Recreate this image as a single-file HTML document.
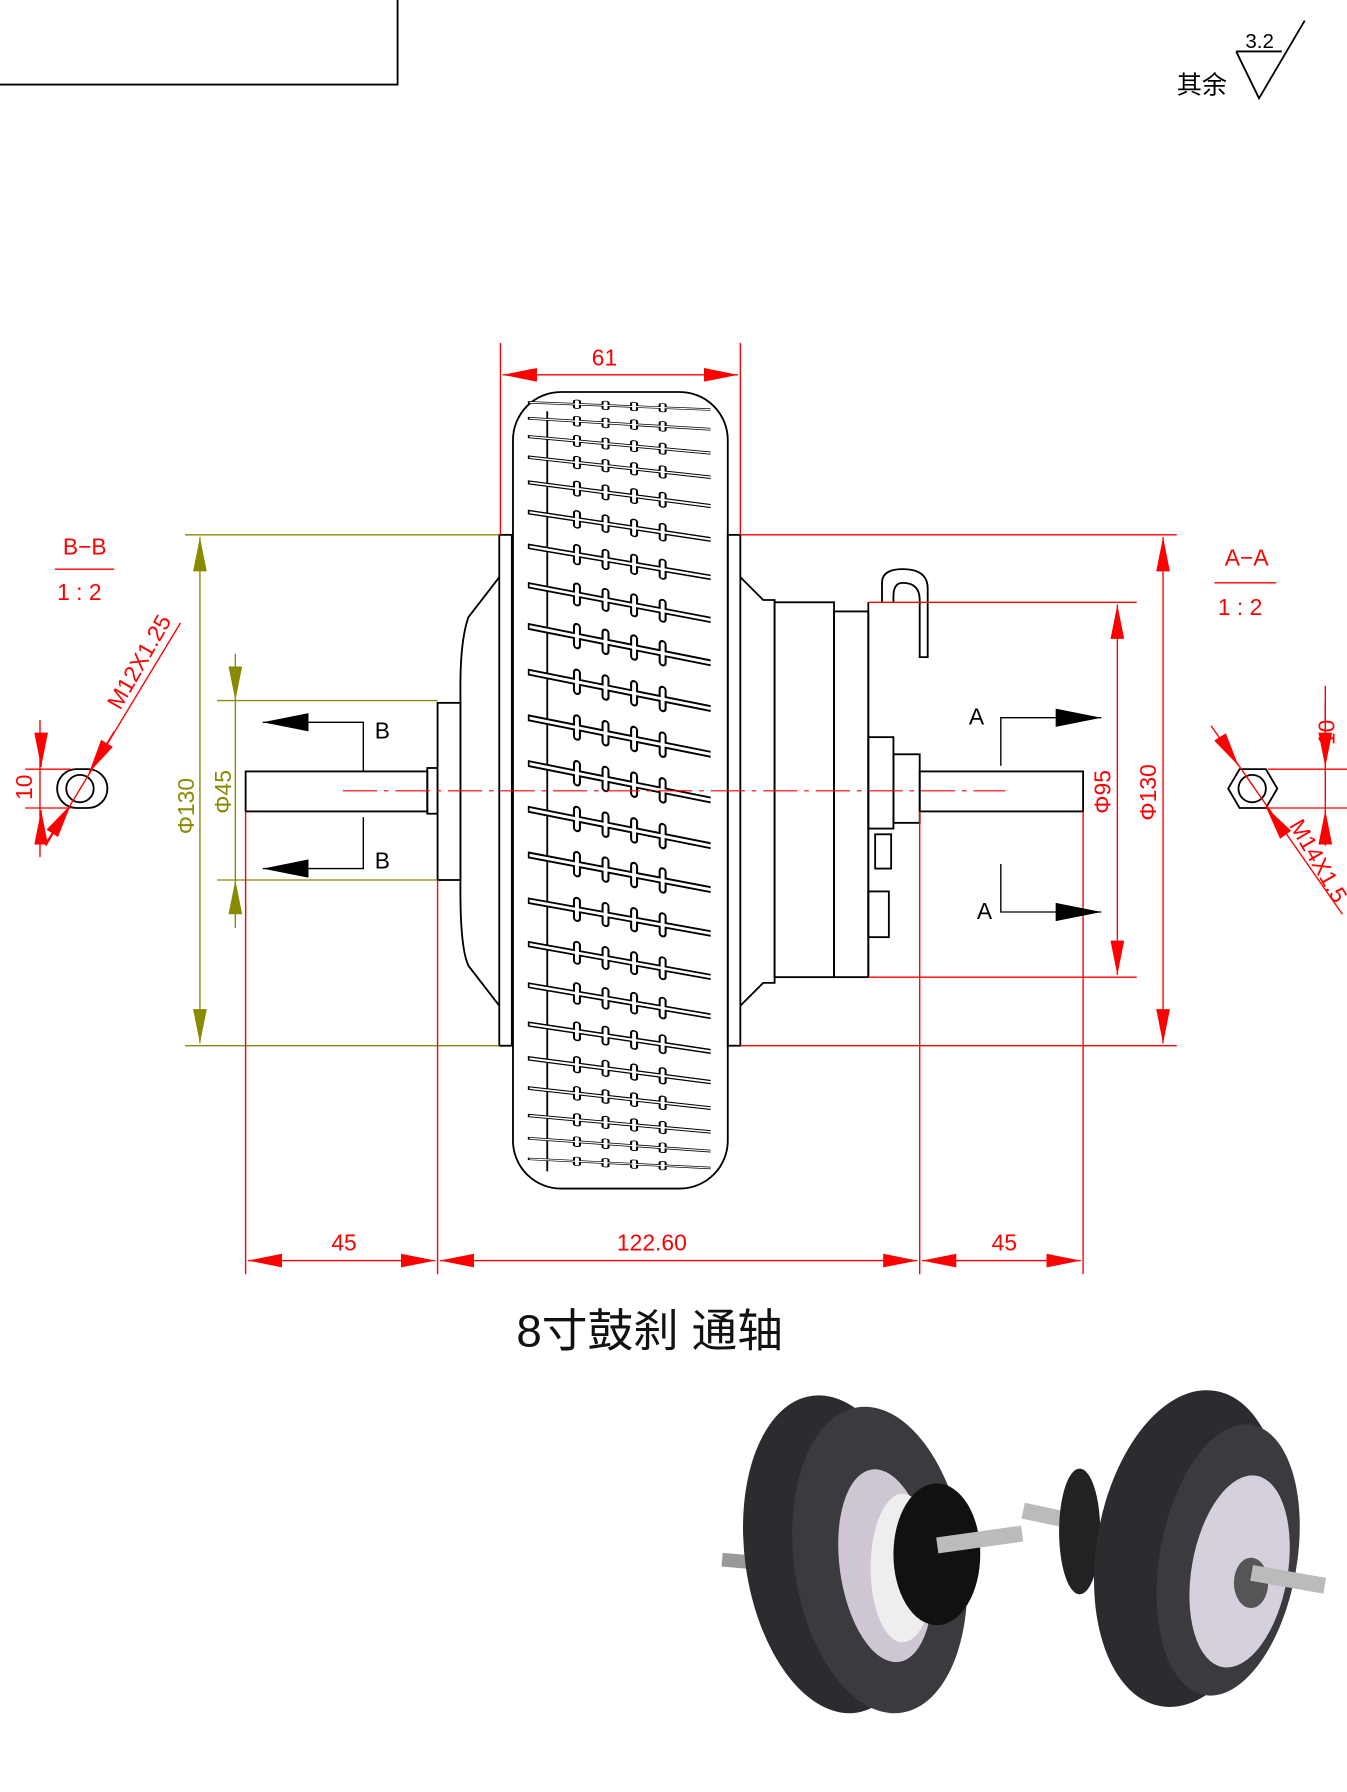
<!DOCTYPE html>
<html><head><meta charset="utf-8"><style>
html,body{margin:0;padding:0;background:#fff;}
svg{display:block;}
text{font-family:"Liberation Sans","Noto Sans CJK SC",sans-serif;}
.r{stroke:#f00;stroke-width:1.2;fill:none}
.y{stroke:#8a8a00;stroke-width:1.2;fill:none}
.k{stroke:#000;stroke-width:1.6;fill:none}
.rt{fill:#f00;font-size:20px;font-family:"Liberation Sans Narrow","Liberation Sans",sans-serif}
.yt{fill:#8a8a00;font-size:20px}
</style></head><body>
<svg width="1347" height="1792" viewBox="0 0 1179 1568" preserveAspectRatio="none" xmlns="http://www.w3.org/2000/svg" xmlns:xlink="http://www.w3.org/1999/xlink">
<defs>
<marker id="ar" viewBox="0 0 10 4" refX="10" refY="2" markerWidth="30" markerHeight="12" markerUnits="userSpaceOnUse" orient="auto-start-reverse"><path d="M0,0L10,2L0,4z" fill="#f00"/></marker>
<marker id="ay" viewBox="0 0 10 4" refX="10" refY="2" markerWidth="30" markerHeight="12" markerUnits="userSpaceOnUse" orient="auto-start-reverse"><path d="M0,0L10,2L0,4z" fill="#8a8a00"/></marker>
<marker id="ak" viewBox="0 0 10 4" refX="10" refY="2" markerWidth="44" markerHeight="16" markerUnits="userSpaceOnUse" orient="auto"><path d="M0,0L10,2L0,4z" fill="#000"/></marker>
<g id="gr">
<path d="M0,0H160" stroke="#000" stroke-width="6"/>
<path d="M43,-8V8M68,-8V8M93,-8V8M118,-8V8" stroke="#000" stroke-width="7" stroke-linecap="round"/>
<path d="M1.5,0H160" stroke="#fff" stroke-width="2.6"/>
<path d="M43,-8V8M68,-8V8M93,-8V8M118,-8V8" stroke="#fff" stroke-width="3.4" stroke-linecap="round"/>
</g>
</defs>
<path d="M0,74H348V0" class="k" stroke-width="1.2"/>
<text x="1030" y="82" font-size="22">其余</text>
<path d="M1082,45L1102,86L1142,18" class="k" stroke-width="1.2"/><path d="M1082,45H1122" class="k" stroke-width="1.2"/>
<text x="1090" y="42" font-size="18">3.2</text>

<rect x="449" y="343" width="188" height="697" rx="42" class="k" stroke-width="2"/>
<path d="M479,360V1025" class="k" stroke-width="1.2"/>
<g>
<use xlink:href="#gr" transform="matrix(1 0.04 0 0.35 462 352)"/>
<use xlink:href="#gr" transform="matrix(1 0.06 0 0.4 462 366)"/>
<use xlink:href="#gr" transform="matrix(1 0.09 0 0.45 462 382)"/>
<use xlink:href="#gr" transform="matrix(1 0.11 0 0.5 462 400)"/>
<use xlink:href="#gr" transform="matrix(1 0.13 0 0.6 462 422)"/>
<use xlink:href="#gr" transform="matrix(1 0.15 0 0.7 462 448)"/>
<use xlink:href="#gr" transform="matrix(1 0.17 0 0.8 462 478)"/>
<use xlink:href="#gr" transform="matrix(1 0.19 0 0.9 462 512)"/>
<use xlink:href="#gr" transform="matrix(1 0.2 0 1 462 548)"/>
<use xlink:href="#gr" transform="matrix(1 0.2 0 1 462 588)"/>
<use xlink:href="#gr" transform="matrix(1 0.2 0 1 462 628)"/>
<use xlink:href="#gr" transform="matrix(1 0.2 0 1 462 668)"/>
<use xlink:href="#gr" transform="matrix(1 0.2 0 1 462 708)"/>
<use xlink:href="#gr" transform="matrix(1 0.19 0 1 462 748)"/>
<use xlink:href="#gr" transform="matrix(1 0.18 0 0.95 462 788)"/>
<use xlink:href="#gr" transform="matrix(1 0.18 0 0.9 462 826)"/>
<use xlink:href="#gr" transform="matrix(1 0.17 0 0.85 462 862)"/>
<use xlink:href="#gr" transform="matrix(1 0.15 0 0.75 462 896)"/>
<use xlink:href="#gr" transform="matrix(1 0.13 0 0.65 462 926)"/>
<use xlink:href="#gr" transform="matrix(1 0.11 0 0.55 462 952)"/>
<use xlink:href="#gr" transform="matrix(1 0.09 0 0.5 462 976)"/>
<use xlink:href="#gr" transform="matrix(1 0.07 0 0.4 462 996)"/>
<use xlink:href="#gr" transform="matrix(1 0.05 0 0.35 462 1014)"/>
</g>
<g class="k" stroke-width="1.4">
<rect x="437" y="468" width="11" height="447"/>
<path d="M437,505 L410,540 Q403,560 403,600 V780 Q403,830 410,845 L437,880"/>
<rect x="383" y="615" width="20" height="155"/>
<rect x="374" y="672" width="9" height="40"/>
<rect x="215" y="675" width="159" height="35"/>
<rect x="637" y="468" width="11" height="447"/>
<path d="M648,505 L668,525 H678 V860 H668 L648,880"/>
<rect x="678" y="527" width="52" height="328"/>
<rect x="730" y="535" width="30" height="320"/>
<path d="M760,527V855"/>
<rect x="760" y="645" width="22" height="80"/>
<rect x="782" y="660" width="23" height="60"/>
<rect x="805" y="675" width="143" height="35"/>
<path d="M772,527 V510 Q772,498 790,498 Q812,498 812,515 V575 H805 V525 Q805,510 790,510 Q782,510 782,522 V527"/>
<rect x="766" y="730" width="14" height="30"/>
<rect x="760" y="780" width="18" height="40"/>
</g>
<path d="M300,692H880" stroke="#f00" stroke-width="1" stroke-dasharray="30 6 4 6"/>

<g class="y">
<path d="M162,468H437M162,915H437M190,613H383M190,770H383"/>
<path d="M175,470V913" marker-start="url(#ay)" marker-end="url(#ay)"/>
<path d="M206,572V613" marker-end="url(#ay)"/><path d="M206,812V770" marker-end="url(#ay)"/><path d="M206,613V770"/>
</g>
<text class="yt" transform="translate(170,730) rotate(-90)">Φ130</text>
<text class="yt" transform="translate(202,712) rotate(-90)">Φ45</text>

<g class="r">
<path d="M438,300V468M648,300V468"/>
<path d="M440,328H646" marker-start="url(#ar)" marker-end="url(#ar)"/>
<path d="M648,468H1030M648,915H1030M760,527H995M760,855H995"/>
<path d="M1018,470V913" marker-start="url(#ar)" marker-end="url(#ar)"/>
<path d="M978,529V853" marker-start="url(#ar)" marker-end="url(#ar)"/>
<path d="M215,710V1115M383,770V1115M805,710V1115M948,710V1115"/>
<path d="M217,1103H381" marker-start="url(#ar)" marker-end="url(#ar)"/>
<path d="M385,1103H803" marker-start="url(#ar)" marker-end="url(#ar)"/>
<path d="M807,1103H946" marker-start="url(#ar)" marker-end="url(#ar)"/>
<path d="M48,498H100M1063,510H1117"/>
</g>
<text class="rt" x="518" y="320">61</text>
<text class="rt" x="290" y="1094">45</text>
<text class="rt" x="540" y="1094">122.60</text>
<text class="rt" x="868" y="1094">45</text>
<text class="rt" transform="translate(972,712) rotate(-90)">Φ95</text>
<text class="rt" transform="translate(1012,718) rotate(-90)">Φ130</text>
<text class="rt" x="55" y="485">B−B</text>
<text class="rt" x="50" y="525">1 : 2</text>
<text class="rt" x="1072" y="495">A−A</text>
<text class="rt" x="1066" y="538">1 : 2</text>

<g stroke="#000" stroke-width="1.2" fill="none">
<path d="M318,675V632H230" marker-end="url(#ak)"/>
<path d="M318,715V760H230" marker-end="url(#ak)"/>
<path d="M876,670V628H964" marker-end="url(#ak)"/>
<path d="M876,756V798H964" marker-end="url(#ak)"/>
</g>
<text x="328" y="646" font-size="20" font-family="Liberation Sans Narrow,Liberation Sans,sans-serif">B</text>
<text x="328" y="760" font-size="20" font-family="Liberation Sans Narrow,Liberation Sans,sans-serif">B</text>
<text x="848" y="634" font-size="20" font-family="Liberation Sans Narrow,Liberation Sans,sans-serif">A</text>
<text x="855" y="804" font-size="20" font-family="Liberation Sans Narrow,Liberation Sans,sans-serif">A</text>

<g>
<rect x="50" y="673" width="44" height="34" rx="17" class="k" stroke-width="1.4"/>
<circle cx="70" cy="690" r="12" class="k" stroke-width="1.2"/>
<g class="r"><path d="M35,630V750M62,673H22M62,707H22"/><path d="M36,645V671" marker-end="url(#ar)"/><path d="M36,735V709" marker-end="url(#ar)"/>
<path d="M158,545L40,740" /><path d="M100,640L78,676" marker-end="url(#ar)"/><path d="M40,738L62,704" marker-end="url(#ar)"/></g>
<text class="rt" transform="translate(28,700) rotate(-90)">10</text>
<text class="rt" transform="translate(105,622) rotate(-60)">M12X1.25</text>
</g>
<g>
<path d="M1085,673H1108L1118,690L1108,707H1085L1075,690Z" class="k" stroke-width="1.4"/>
<circle cx="1096" cy="690" r="12" class="k" stroke-width="1.2"/>
<g class="r"><path d="M1110,673H1179M1110,707H1179M1160,600V730"/><path d="M1160,612V671" marker-end="url(#ar)"/><path d="M1160,740V709" marker-end="url(#ar)"/>
<path d="M1060,635L1175,800"/><path d="M1068,645L1084,670" marker-end="url(#ar)"/><path d="M1125,730L1108,706" marker-end="url(#ar)"/></g>
<text class="rt" transform="translate(1168,652) rotate(-90)">10</text>
<text class="rt" transform="translate(1128,722) rotate(60)">M14X1.5</text>
</g>

<text x="452" y="1178" font-size="40" fill="#111" font-family="Liberation Sans,Noto Sans CJK SC,sans-serif">8寸鼓刹 通轴</text>

<g>
<rect x="632" y="1360" width="30" height="12" fill="#999" transform="rotate(5 647 1366)"/>
<ellipse cx="730" cy="1360" rx="78" ry="140" fill="#2c2c30" transform="rotate(-8 730 1360)"/>
<ellipse cx="770" cy="1365" rx="75" ry="135" fill="#3a3a3f" transform="rotate(-8 770 1365)"/>
<ellipse cx="775" cy="1370" rx="40" ry="85" fill="#cfc6d3" transform="rotate(-8 775 1370)"/>
<ellipse cx="790" cy="1372" rx="28" ry="65" fill="#eee"/>
<ellipse cx="820" cy="1360" rx="38" ry="62" fill="#111"/>
<rect x="820" y="1340" width="75" height="14" fill="#bbb" transform="rotate(-8 858 1347)"/>
<rect x="895" y="1320" width="50" height="14" fill="#bbb" transform="rotate(12 920 1327)"/>
<ellipse cx="945" cy="1340" rx="18" ry="55" fill="#222"/>
<ellipse cx="1040" cy="1355" rx="80" ry="140" fill="#2c2c30" transform="rotate(10 1040 1355)"/>
<ellipse cx="1075" cy="1365" rx="60" ry="120" fill="#3a3a3f" transform="rotate(10 1075 1365)"/>
<ellipse cx="1085" cy="1375" rx="42" ry="85" fill="#d6cfdc" transform="rotate(10 1085 1375)"/>
<ellipse cx="1095" cy="1385" rx="15" ry="22" fill="#555"/>
<rect x="1095" y="1375" width="65" height="14" fill="#bbb" transform="rotate(10 1128 1382)"/>
</g>
</svg>
</body></html>
